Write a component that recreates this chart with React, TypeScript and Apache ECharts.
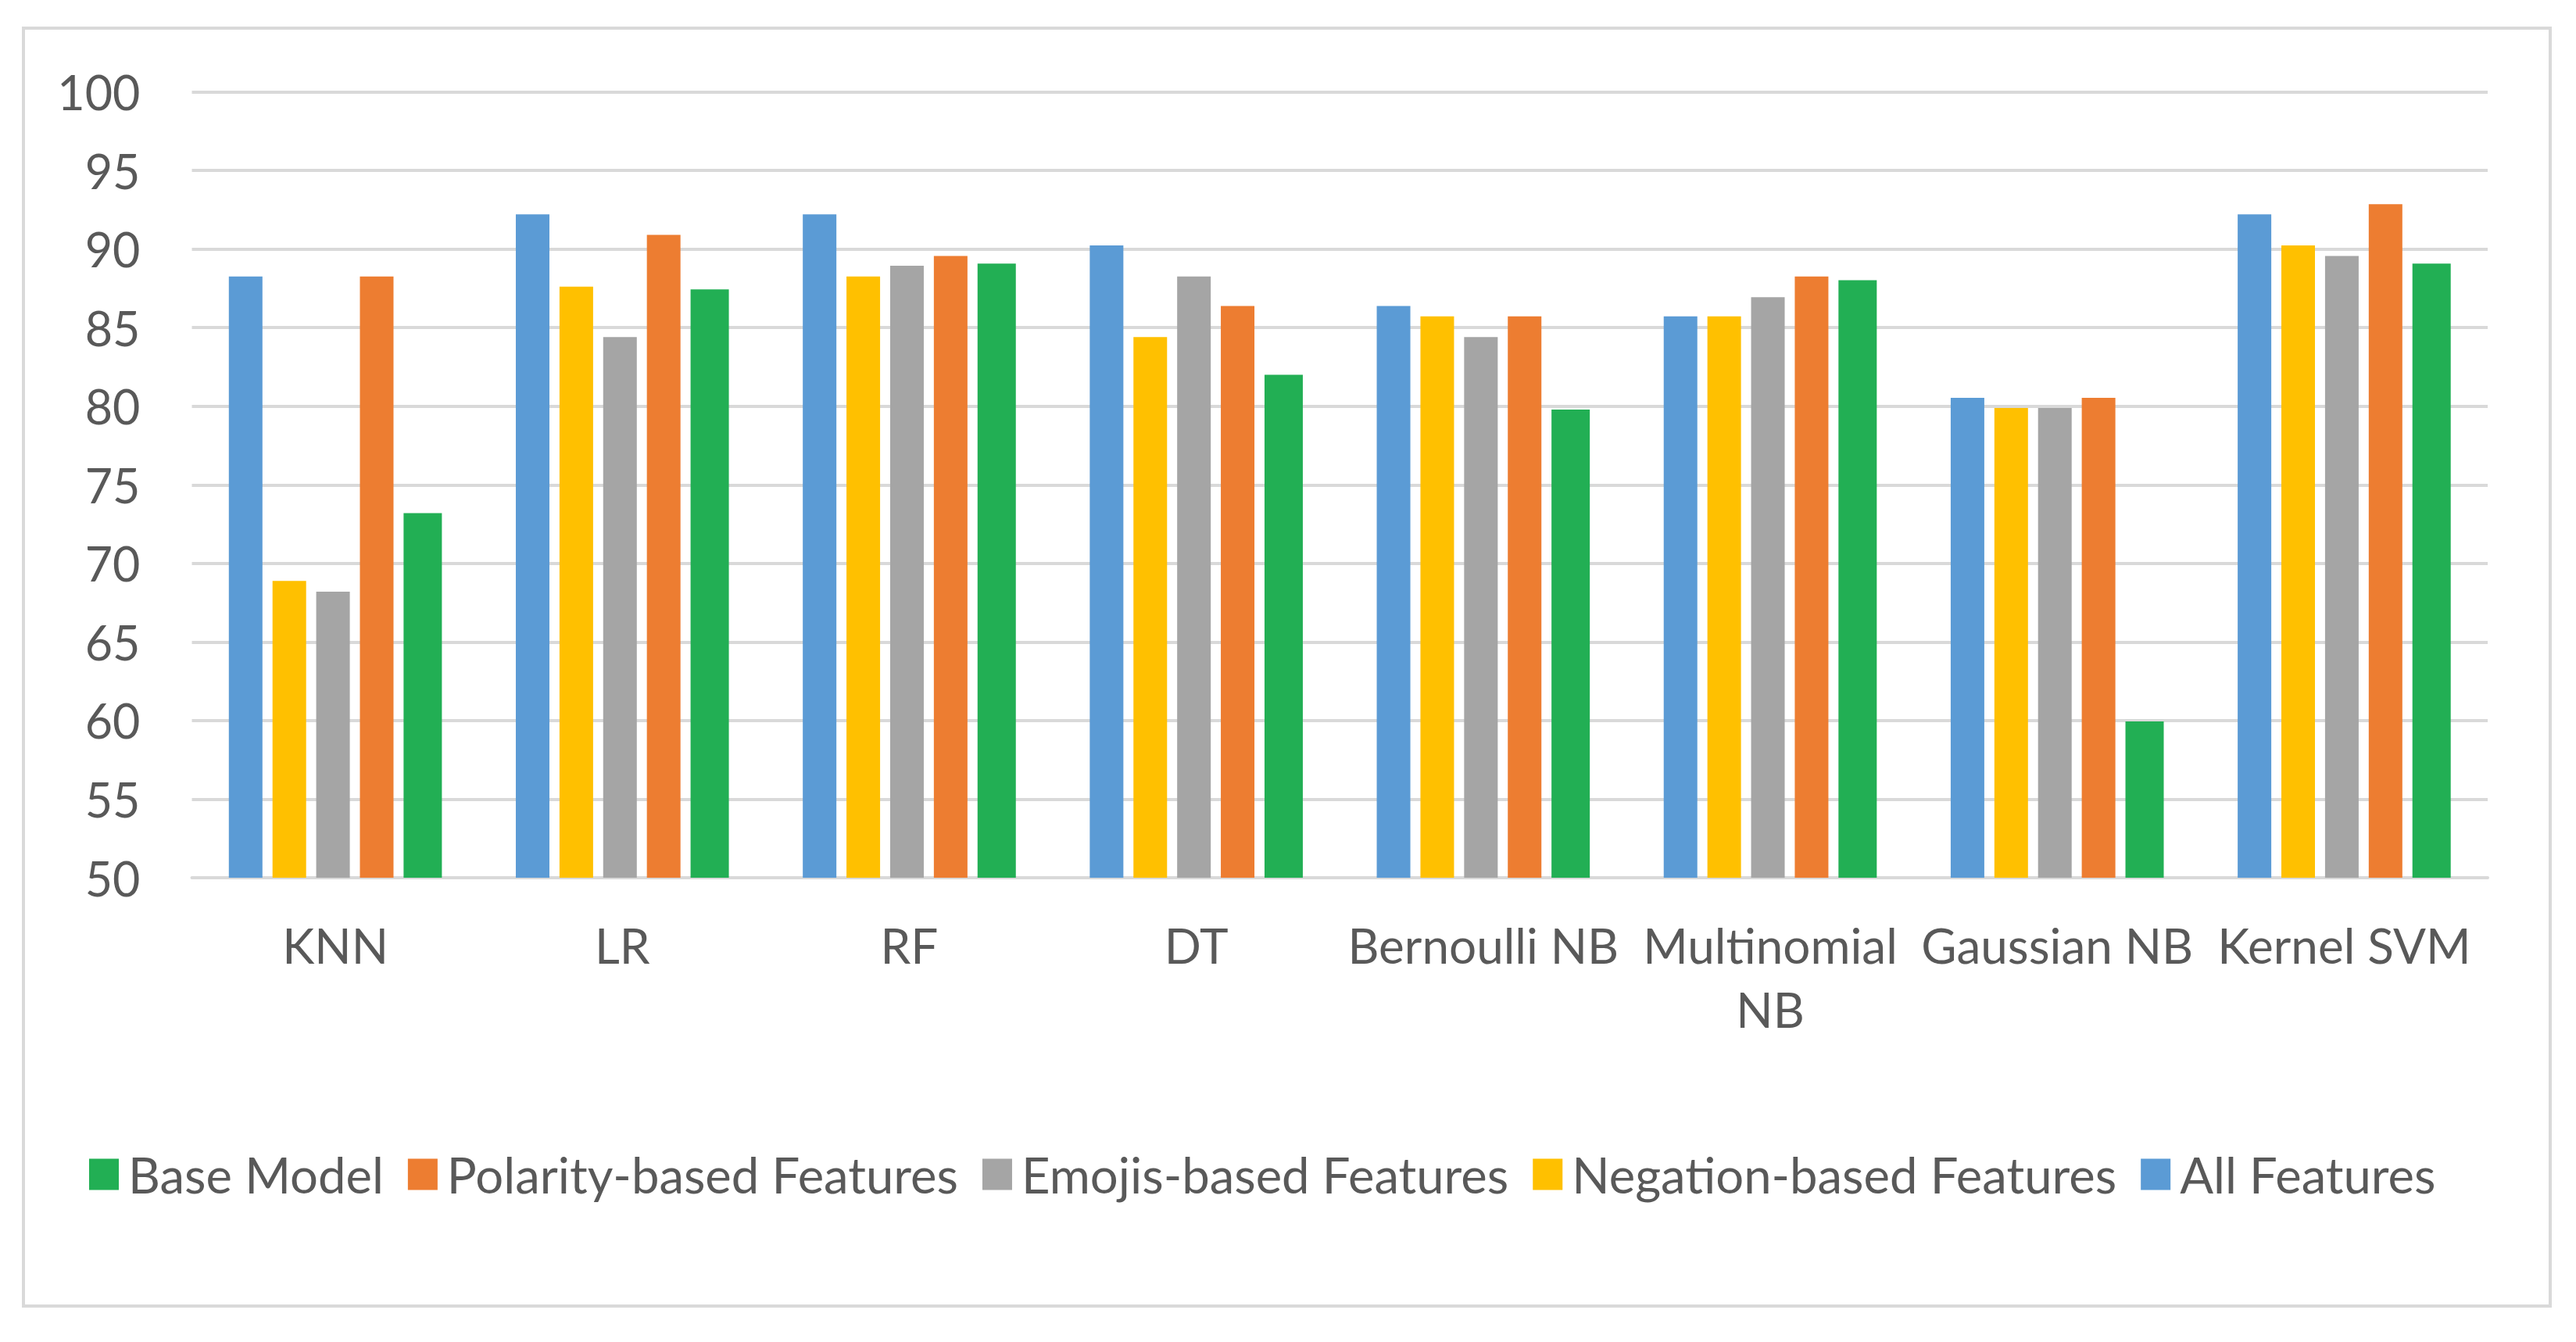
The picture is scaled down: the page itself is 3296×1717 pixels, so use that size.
import React, { useEffect, useRef } from "react";
import * as echarts from "echarts";

const categories = ["KNN", "LR", "RF", "DT", "Bernoulli NB", "Multinomial\nNB", "Gaussian NB", "Kernel SVM"];
const allFeatures = [88.25, 92.2, 92.2, 90.23, 86.37, 85.72, 80.53, 92.2];
const negationFeatures = [68.88, 87.6, 88.25, 84.4, 85.72, 85.72, 79.89, 90.23];
const emojisFeatures = [68.2, 84.4, 88.94, 88.25, 84.4, 86.94, 79.89, 89.56];
const polarityFeatures = [88.25, 90.9, 89.56, 86.37, 85.72, 88.25, 80.53, 92.85];
const baseModel = [73.2, 87.43, 89.07, 82.0, 79.79, 88.02, 59.94, 89.07];
const legendOrder = ["Base Model", "Polarity-based Features", "Emojis-based Features", "Negation-based Features", "All Features"];

const FONT = "Lato";
const TEXT = "#595959";
const GRID = "#d9d9d9";

export default function App() {
  const ref = useRef<HTMLDivElement>(null);
  useEffect(() => {
    if (!ref.current) return;
    const chart = echarts.init(ref.current, null, { renderer: "svg" });
    const mk = (name: string, data: number[], color: string, w: number) => ({
      name,
      type: "bar",
      data,
      barWidth: w,
      barGap: "30%",
      itemStyle: { color },
    });
    chart.setOption({
      animation: false,
      backgroundColor: "#ffffff",
      textStyle: { fontFamily: FONT },
      graphic: [
        {
          type: "rect",
          shape: { x: 30, y: 36, width: 3233, height: 1635 },
          style: { fill: "none", stroke: GRID, lineWidth: 4 },
          silent: true,
        },
      ],
      grid: { left: 245.5, right: 113, top: 117.5, bottom: 594, containLabel: false },
      legend: {
        data: legendOrder,
        left: 109,
        top: 1466,
        icon: "rect",
        itemWidth: 38,
        itemHeight: 40,
        itemGap: 31,
        textStyle: { color: TEXT, fontSize: 63.4, fontFamily: FONT, padding: [0, 0, 0, 7] },
      },
      xAxis: {
        type: "category",
        data: categories,
        axisTick: { show: false },
        axisLine: { show: true, lineStyle: { color: GRID, width: 4 } },
        axisLabel: { interval: 0, color: TEXT, fontSize: 62, fontFamily: FONT, margin: 45, lineHeight: 82 },
      },
      yAxis: {
        type: "value",
        min: 50,
        max: 100,
        interval: 5,
        axisLine: { show: false },
        axisTick: { show: false },
        splitLine: { lineStyle: { color: GRID, width: 4 } },
        axisLabel: { color: TEXT, fontSize: 61, fontFamily: FONT, margin: 66 },
      },
      series: [
        mk("All Features", allFeatures, "#5B9BD5", 43),
        mk("Negation-based Features", negationFeatures, "#FFC000", 43),
        mk("Emojis-based Features", emojisFeatures, "#A5A5A5", 43),
        mk("Polarity-based Features", polarityFeatures, "#ED7D31", 43),
        mk("Base Model", baseModel, "#22AF54", 49),
      ],
    });
    return () => chart.dispose();
  }, []);
  return (
    <div
      ref={ref}
      style={{ position: "fixed", left: 0, top: 0, width: 3296, height: 1717, background: "#fff" }}
    />
  );
}
